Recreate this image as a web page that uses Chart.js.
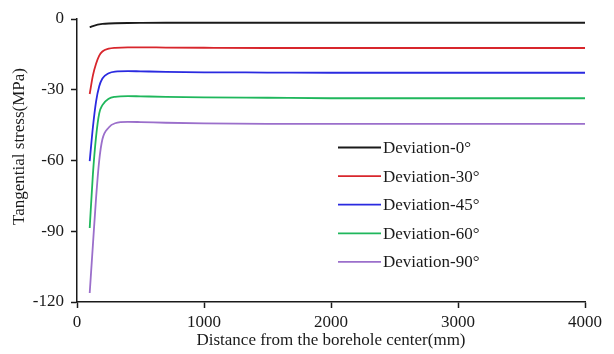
<!DOCTYPE html>
<html>
<head>
<meta charset="utf-8">
<script src="https://cdn.jsdelivr.net/npm/chart.js@4.4.1/dist/chart.umd.min.js"></script>
<style>
  html, body { margin: 0; padding: 0; background: #fff; }
  #wrap { width: 614px; height: 354px; position: relative; }
</style>
</head>
<body>
<div id="wrap"><canvas id="c" width="614" height="354"></canvas></div>
<script>
// Distance from the borehole centre (mm)
const distance = [100, 125, 150, 175, 200, 250, 300, 400, 500, 700, 1000, 1500, 2000, 2500, 3000, 3500, 4000];

// Tangential stress (MPa) for each borehole deviation angle
const dev0  = [-3.5, -3.0, -2.6, -2.3, -2.1, -1.9, -1.8, -1.7, -1.65, -1.6, -1.6, -1.6, -1.6, -1.6, -1.6, -1.6, -1.6];
const dev30 = [-31.8, -24.0, -19.0, -15.5, -13.8, -12.6, -12.2, -12.0, -12.0, -12.1, -12.2, -12.3, -12.3, -12.3, -12.3, -12.3, -12.3];
const dev45 = [-60.3, -46.0, -35.0, -28.5, -25.2, -23.0, -22.3, -22.1, -22.2, -22.4, -22.6, -22.7, -22.8, -22.8, -22.8, -22.8, -22.8];
const dev60 = [-88.6, -66.0, -50.0, -40.0, -36.5, -33.8, -33.0, -32.7, -32.8, -33.0, -33.2, -33.4, -33.6, -33.6, -33.6, -33.6, -33.6];
const dev90 = [-116.2, -96.0, -76.0, -60.0, -51.0, -46.0, -44.2, -43.6, -43.7, -44.0, -44.3, -44.5, -44.5, -44.5, -44.5, -44.5, -44.5];

const seriesLabels = ['Deviation-0°', 'Deviation-30°', 'Deviation-45°', 'Deviation-60°', 'Deviation-90°'];
const seriesColors = ['#1a1a1a', '#d8262c', '#2a2ae0', '#1fb75c', '#9b6fcb'];
const seriesValues = [dev0, dev30, dev45, dev60, dev90];

const yTitle = 'Tangential stress(MPa)';
const xTitle = 'Distance from the borehole center(mm)';

const FONT = "'Liberation Serif', 'Times New Roman', serif";
const FS = 17;

const datasets = seriesValues.map((vals, i) => ({
  label: seriesLabels[i],
  data: distance.map((d, k) => ({ x: d, y: vals[k] })),
  borderColor: seriesColors[i],
  backgroundColor: seriesColors[i],
  borderWidth: 1.8,
  pointRadius: 0,
  cubicInterpolationMode: 'monotone',
  fill: false
}));

// Legend drawn inside the plot area, lines on the left, labels on the right
const innerLegend = {
  id: 'innerLegend',
  afterDraw(chart) {
    const ctx = chart.ctx;
    const x0 = 338, x1 = 381, yStart = 147.5, step = 28.6;
    ctx.save();
    ctx.font = FS + 'px ' + FONT;
    ctx.textBaseline = 'middle';
    ctx.textAlign = 'left';
    chart.data.datasets.forEach((ds, i) => {
      const y = yStart + i * step;
      ctx.strokeStyle = ds.borderColor;
      ctx.lineWidth = 1.8;
      ctx.beginPath();
      ctx.moveTo(x0, y);
      ctx.lineTo(x1, y);
      ctx.stroke();
      ctx.fillStyle = '#1a1a1a';
      ctx.fillText(ds.label, x1 + 2, y + 1);
    });
    ctx.restore();
  }
};

// Rotated y-axis title, sitting slightly above the middle of the axis
const yAxisTitle = {
  id: 'yAxisTitle',
  afterDraw(chart) {
    const ctx = chart.ctx;
    const area = chart.chartArea;
    ctx.save();
    ctx.font = FS + 'px ' + FONT;
    ctx.fillStyle = '#1a1a1a';
    ctx.textAlign = 'center';
    ctx.textBaseline = 'middle';
    ctx.translate(20, (area.top + area.bottom) / 2 - 14);
    ctx.rotate(-Math.PI / 2);
    ctx.fillText(yTitle, 0, 0);
    ctx.restore();
  }
};

new Chart(document.getElementById('c'), {
  type: 'line',
  data: { datasets },
  options: {
    responsive: false,
    animation: false,
    devicePixelRatio: 1,
    layout: { padding: { left: 0, right: 29, top: 19, bottom: 0 } },
    plugins: { legend: { display: false }, tooltip: { enabled: false } },
    scales: {
      x: {
        type: 'linear',
        min: 0,
        max: 4000,
        ticks: {
          stepSize: 1000, color: '#1a1a1a', font: { family: FONT, size: FS }, padding: 4, maxRotation: 0,
          callback: (v) => String(v)
        },
        grid: { drawOnChartArea: false, drawTicks: true, tickLength: 6, tickColor: '#1a1a1a', tickWidth: 1.5 },
        border: { display: true, color: '#1a1a1a', width: 1.5 },
        title: { display: true, text: xTitle, color: '#1a1a1a', font: { family: FONT, size: FS }, padding: { top: 0, bottom: 3 } },
        afterFit(scale) { scale.height = 52; }
      },
      y: {
        min: -120,
        max: 0,
        ticks: { stepSize: 30, color: '#1a1a1a', font: { family: FONT, size: FS }, padding: 7 },
        grid: { drawOnChartArea: false, drawTicks: true, tickLength: 6, tickColor: '#1a1a1a', tickWidth: 1.5 },
        border: { display: true, color: '#1a1a1a', width: 1.5 },
        title: { display: false },
        afterFit(scale) { scale.width = 77; }
      }
    }
  },
  plugins: [innerLegend, yAxisTitle]
});
</script>
</body>
</html>
